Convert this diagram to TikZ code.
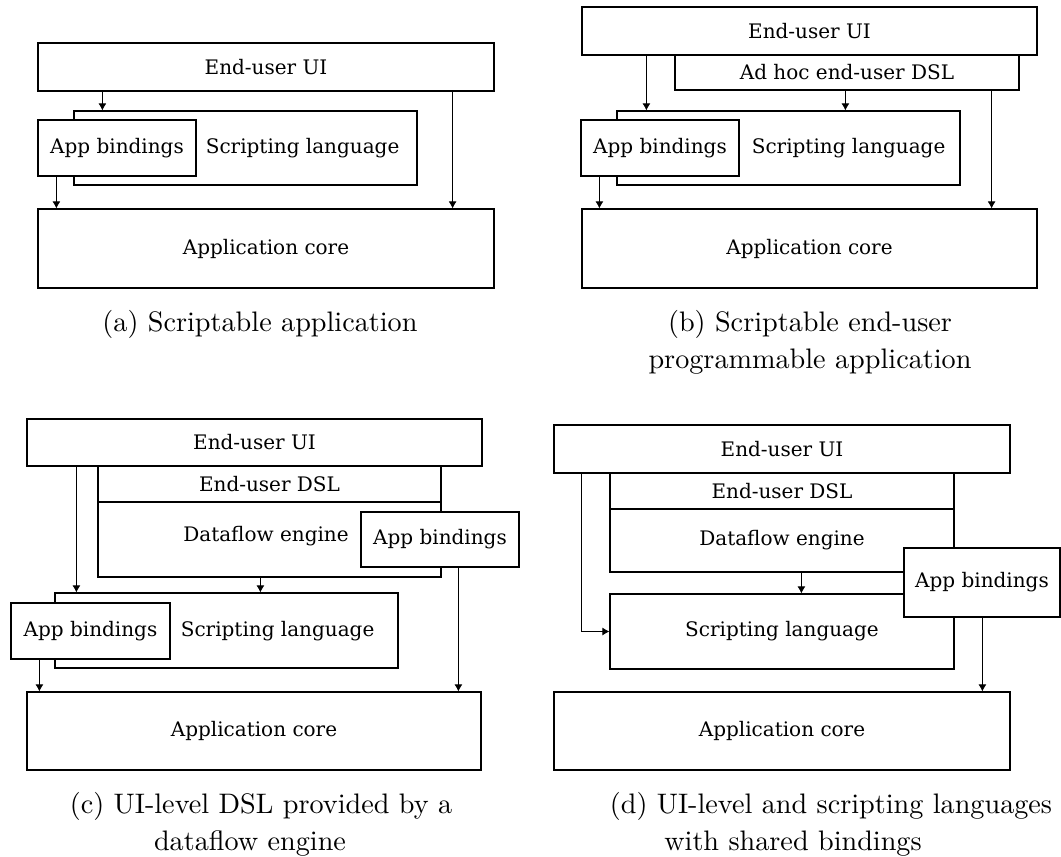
\documentclass[tikz,border=0pt]{standalone}
\usepackage{fontspec}
\newfontfamily\boxfont{DejaVu Serif}
\newfontfamily\capfont{lmroman10-regular}[Extension=.otf]
\usetikzlibrary{arrows.meta,positioning}

\begin{document}
\begin{tikzpicture}[x=1pt, y=-1pt,
    blk/.style={draw, fill=white, line width=1.2pt, inner sep=0pt, font=\boxfont\fontsize{20}{23}\selectfont},
    lbl/.style={inner sep=0pt, font=\boxfont\fontsize{20}{23}\selectfont},
    captxt/.style={inner sep=0pt, anchor=base, font=\capfont\fontsize{28.2}{34}\selectfont},
    arr/.style={-{Latex[length=7pt,width=8pt]}, line width=0.9pt}]
    \useasboundingbox (0,0) rectangle (1061,857);

    \node[blk, minimum width=456, minimum height=48] (uiA) at (266, 67) {End-user UI};
    \node[blk, minimum width=343, minimum height=74] (slA) at (245.5, 148) {};
    \node[blk, minimum width=158, minimum height=56] (abA) at (117, 148) {App bindings};
    \node[lbl, right=9pt of abA] (slAtxt) {Scripting language};
    \node[blk, minimum width=456, minimum height=79] (coreA) at (266, 248.5) {Application core};
    \node[captxt] (capA) at (260, 331) {(a) Scriptable application};

    \draw
    ([xshift=65pt]uiA.south west) edge[arr] ([xshift=29pt]slA.north west)
    ([xshift=19pt]abA.south west) edge[arr] ([xshift=19pt]coreA.north west)
    ([xshift=-42pt]uiA.south east) edge[arr] ([xshift=-42pt]coreA.north east);

    \node[blk, minimum width=455, minimum height=48] (uiB) at (809.5, 31) {End-user UI};
    \node[blk, minimum width=344, minimum height=35] (dslB) at (847, 72.5) {Ad hoc end-user DSL};
    \node[blk, minimum width=343, minimum height=74] (slB) at (788.5, 148) {};
    \node[blk, minimum width=158, minimum height=56] (abB) at (660, 148) {App bindings};
    \node[lbl, right=12pt of abB] (slBtxt) {Scripting language};
    \node[blk, minimum width=455, minimum height=79] (coreB) at (809.5, 248.5) {Application core};
    \node[captxt] (capB1) at (810, 331) {(b) Scriptable end-user};
    \node[captxt] (capB2) at (810, 368) {programmable application};

    \draw
    ([xshift=65pt]uiB.south west) edge[arr] ([xshift=30pt]slB.north west)
    ([xshift=171pt]dslB.south west) edge[arr] ([xshift=229pt]slB.north west)
    ([xshift=-28pt]dslB.south east) edge[arr] ([xshift=-46pt]coreB.north east)
    ([xshift=19pt]abB.south west) edge[arr] ([xshift=18pt]coreB.north west);

    \node[blk, minimum width=455, minimum height=47] (uiC) at (254.5, 442.5) {End-user UI};
    \node[blk, minimum width=343, minimum height=36] (dslC) at (269.5, 484) {End-user DSL};
    \node[blk, minimum width=343, minimum height=75] (dfC) at (269.5, 539.5) {};
    \node[lbl] (dfCtxt) at (266, 536) {Dataflow engine};
    \node[blk, minimum width=158, minimum height=55] (abC2) at (440, 539.5) {App bindings};
    \node[blk, minimum width=343, minimum height=75] (slC) at (226.5, 630.5) {};
    \node[blk, minimum width=159, minimum height=56] (abC1) at (90.5, 631) {App bindings};
    \node[lbl, right=10pt of abC1] (slCtxt) {Scripting language};
    \node[blk, minimum width=454, minimum height=78] (coreC) at (254, 731) {Application core};
    \node[captxt] (capC1) at (261, 813) {(c) UI-level DSL provided by a};
    \node[captxt] (capC2) at (250, 850) {dataflow engine};

    \draw
    ([xshift=50pt]uiC.south west) edge[arr] ([xshift=22pt]slC.north west)
    ([xshift=163pt]dfC.south west) edge[arr] ([xshift=206pt]slC.north west)
    ([xshift=98pt]abC2.south west) edge[arr] ([xshift=432pt]coreC.north west)
    ([xshift=29pt]abC1.south west) edge[arr] ([xshift=13pt]coreC.north west);

    \node[blk, minimum width=456, minimum height=48] (uiD) at (782, 449) {End-user UI};
    \node[blk, minimum width=344, minimum height=36] (dslD) at (782, 491) {End-user DSL};
    \node[blk, minimum width=344, minimum height=63] (dfD) at (782, 540.5) {Dataflow engine};
    \node[blk, minimum width=344, minimum height=75] (slD) at (782, 631.5) {Scripting language};
    \node[blk, minimum width=156, minimum height=69] (abD) at (982, 582.5) {App bindings};
    \node[blk, minimum width=456, minimum height=78] (coreD) at (782, 731) {Application core};
    \node[captxt] (capD1) at (831, 813) {(d) UI-level and scripting languages};
    \node[captxt] (capD2) at (793, 850) {with shared bindings};

    \draw[arr] ([xshift=28pt]uiD.south west) |- (slD.west);
    \draw
    ([xshift=192pt]dfD.south west) edge[arr] ([xshift=192pt]slD.north west)
    ([xshift=79pt]abD.south west) edge[arr] ([xshift=429pt]coreD.north west);
\end{tikzpicture}
\end{document}
